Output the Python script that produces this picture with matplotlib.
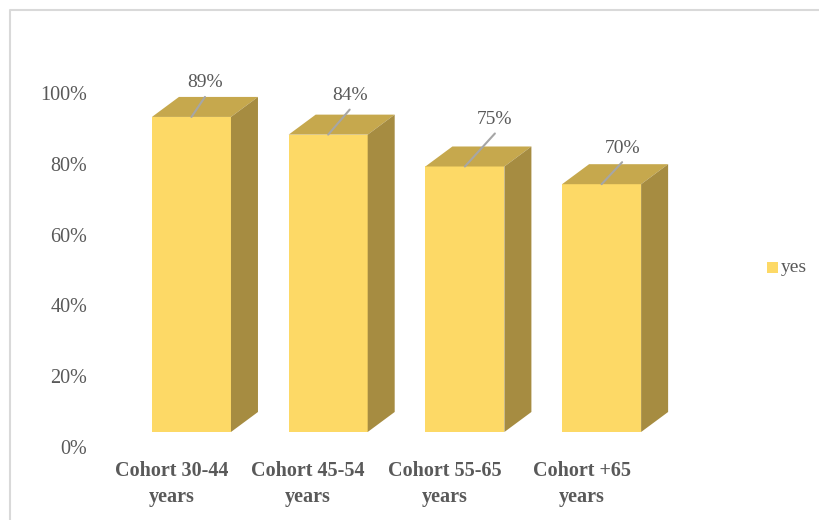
import numpy as np
import matplotlib
matplotlib.use("Agg")
import matplotlib.pyplot as plt
from matplotlib.patches import Polygon, Rectangle
from matplotlib.lines import Line2D

plt.rcParams['font.family'] = ['Liberation Serif', 'DejaVu Serif']

# data
categories = ["Cohort 30-44\nyears", "Cohort 45-54\nyears", "Cohort 55-65\nyears", "Cohort +65\nyears"]
yes_share = [0.89, 0.84, 0.75, 0.70]
value_labels = ["89%", "84%", "75%", "70%"]
y_ticks = [0.0, 0.2, 0.4, 0.6, 0.8, 1.0]
y_tick_labels = ["0%", "20%", "40%", "60%", "80%", "100%"]
series_name = "yes"

# colours / layout
front_col = '#FDD966'
top_col = '#C6A84D'
side_col = '#A68C41'
text_col = '#595959'
bar_w = 0.578
depth_x, depth_y = 0.1975, 0.0565   # 3d depth in data units
floor = 0.0424                      # front edge of the floor
cat_shift = -0.146
# label centre offsets from the front top edge (pixels)
label_shift = [(13.5, 34), (21.5, 39), (30, 47), (20.5, 36)]

W, H = 820, 520
fig = plt.figure(figsize=(W / 100, H / 100), dpi=100)
ax = fig.add_axes([100 / W, 1 - 464.7 / H, 620 / W, 424.8 / H])
ax.set_xlim(-0.669, 3.866)
ax.set_ylim(-0.05, 1.15)

x = np.arange(len(categories))
ax.bar(x, yes_share, width=bar_w, bottom=floor, color=front_col, zorder=3)

for xi, v in zip(x, yes_share):
    l, r = xi - bar_w / 2, xi + bar_w / 2
    t = floor + v
    ax.add_patch(Polygon([(l, t), (r, t), (r + depth_x, t + depth_y), (l + depth_x, t + depth_y)],
                         closed=True, facecolor=top_col, edgecolor='none', zorder=3))
    ax.add_patch(Polygon([(r, floor), (r + depth_x, floor + depth_y), (r + depth_x, t + depth_y), (r, t)],
                         closed=True, facecolor=side_col, edgecolor='none', zorder=3))

# data labels with leader lines
for xi, v, lab, (ox, oy) in zip(x, yes_share, value_labels, label_shift):
    ax.annotate(lab, xy=(xi, floor + v), xytext=(ox, oy), textcoords='offset pixels',
                ha='center', va='center', fontsize=14, color=text_col, zorder=5)
    ax.annotate('', xy=(xi, floor + v), xytext=(ox, oy - 14), textcoords='offset pixels',
                arrowprops=dict(arrowstyle='-', color='#A6A6A6', lw=1.5, shrinkA=0, shrinkB=0),
                zorder=4)

# category labels
for xi, cat in zip(x, categories):
    ax.text(xi + cat_shift, -0.104, cat, ha='center', va='center', fontsize=14.5,
            fontweight='bold', color=text_col, linespacing=1.4, clip_on=False)

ax.set_yticks(y_ticks)
ax.set_yticklabels(y_tick_labels, fontsize=14.5, color=text_col)
ax.tick_params(axis='y', length=0, pad=9)
ax.set_xticks([])
for s in ax.spines.values():
    s.set_visible(False)

# legend
fig.patches.append(Rectangle((767 / W, 1 - 273 / H), 11 / W, 11 / H,
                             transform=fig.transFigure, facecolor=front_col, edgecolor='none'))
fig.text(781 / W, 1 - 268 / H, series_name, ha='left', va='center', fontsize=14, color=text_col)

# chart frame
fig.lines.append(Line2D([10 / W, 10 / W, 1.0], [0.0, 1 - 10 / H, 1 - 10 / H],
                        transform=fig.transFigure, color='#D9D9D9', lw=1.5))

fig.savefig("out.png", dpi=100, facecolor='white')
